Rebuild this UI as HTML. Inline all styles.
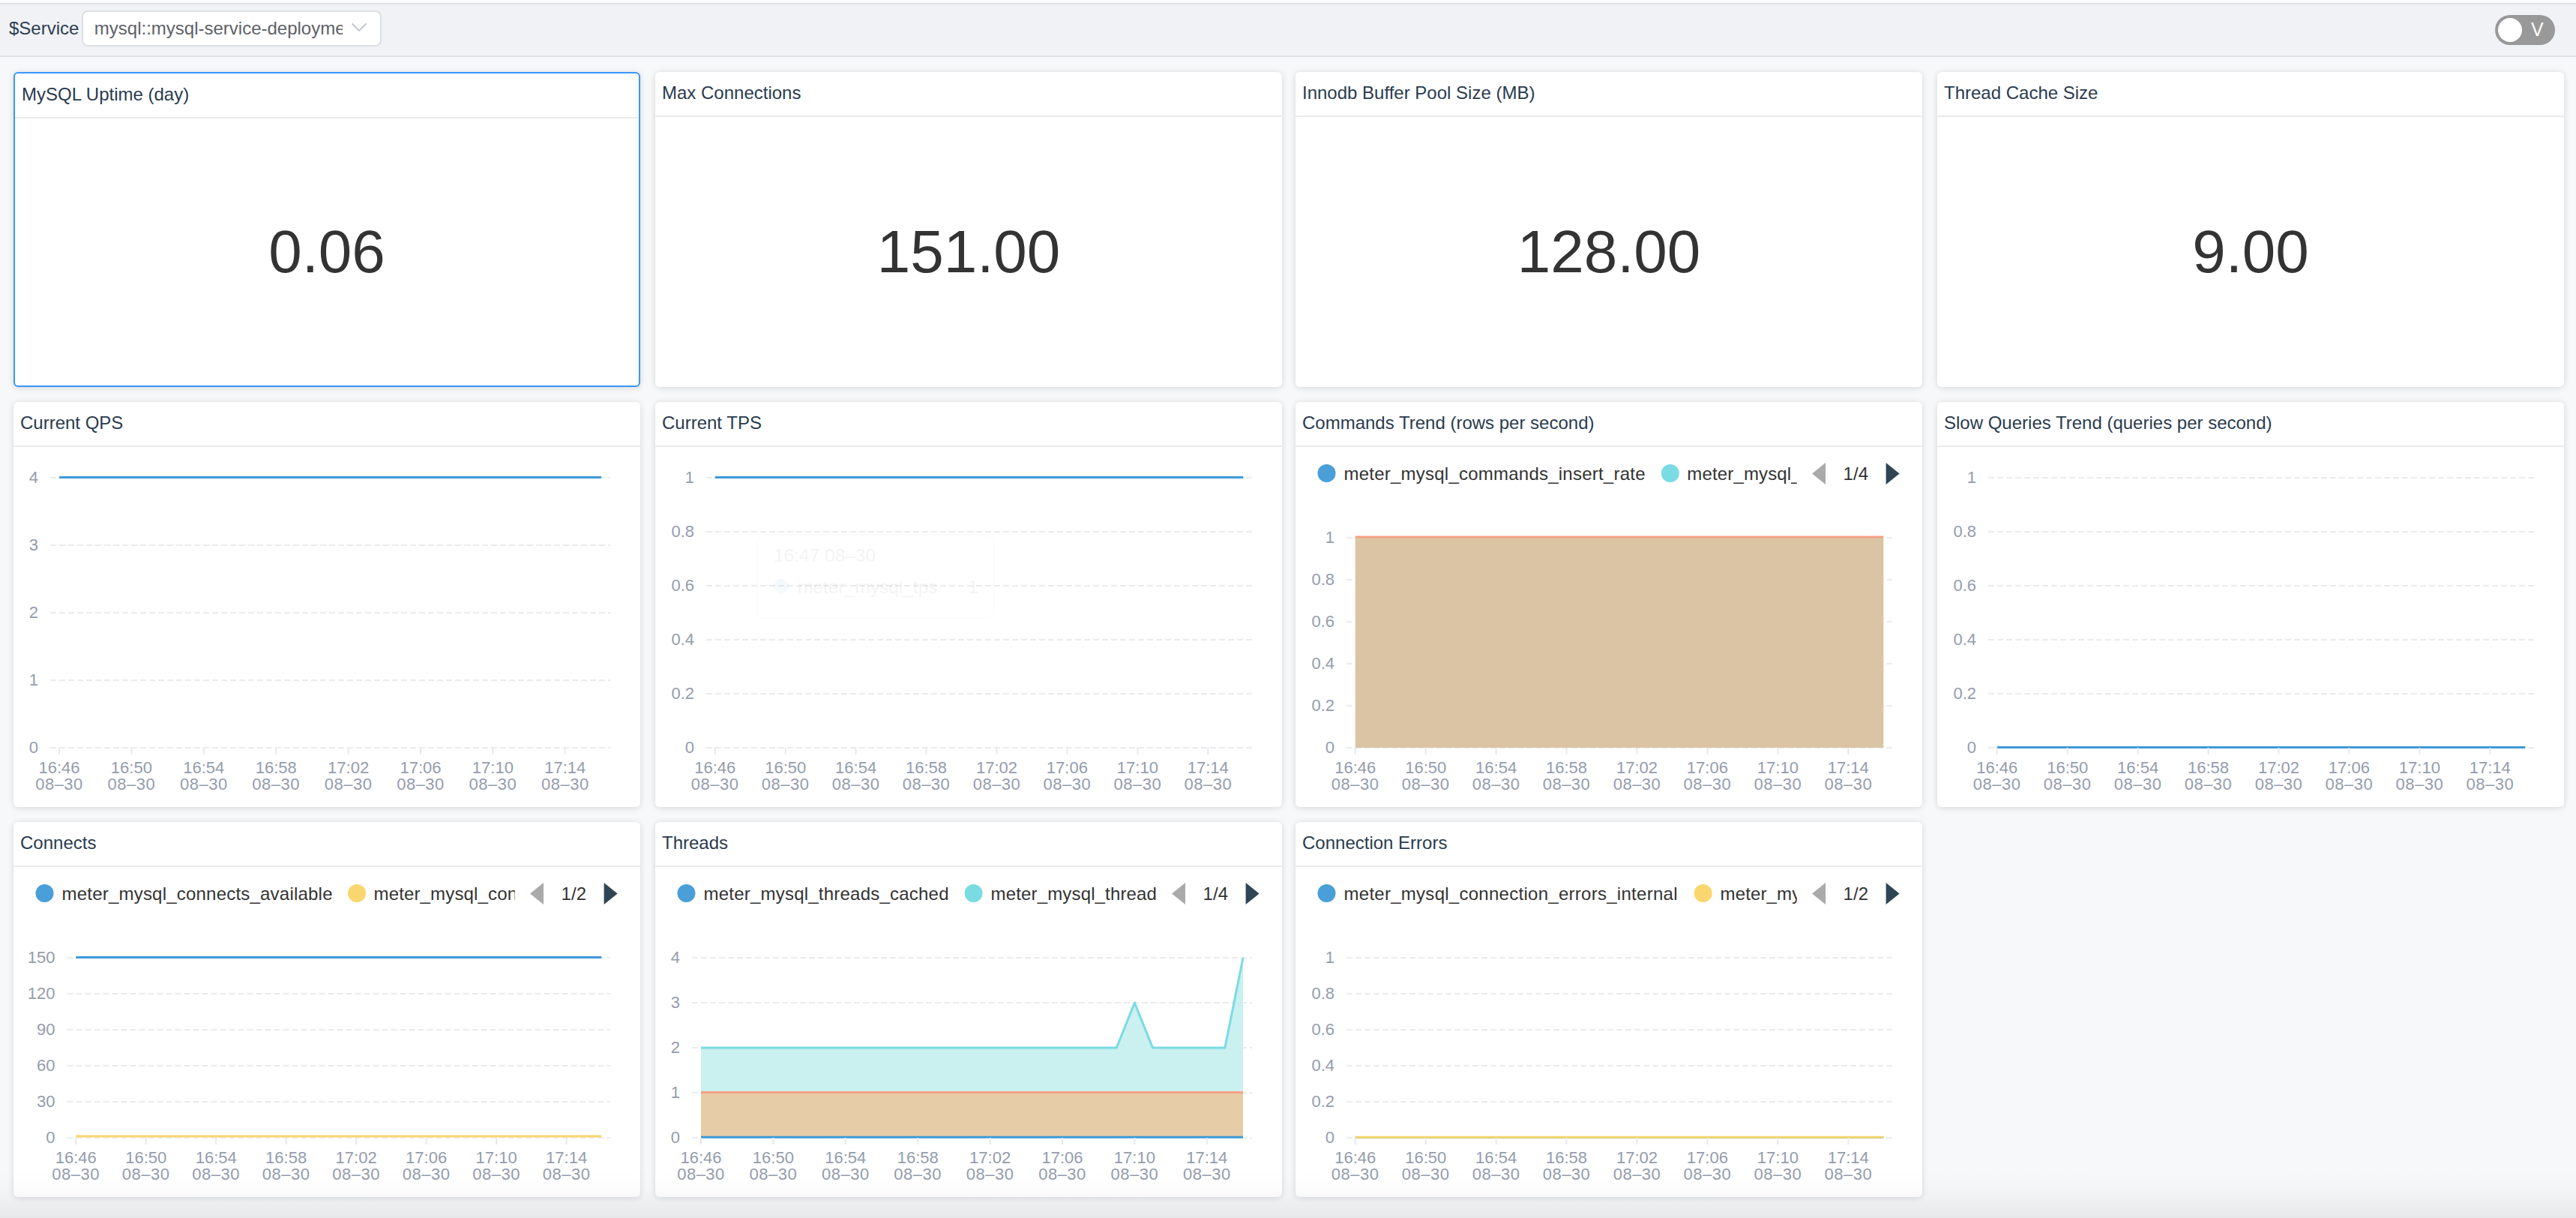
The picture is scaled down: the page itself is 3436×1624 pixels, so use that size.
<!DOCTYPE html>
<html><head><meta charset="utf-8"><title>MySQL Dashboard</title>
<style>
html,body{margin:0;padding:0;}
body{width:3436px;height:1624px;overflow:hidden;position:relative;background:#f7f8fa;font-family:'Liberation Sans', Arial, Helvetica, sans-serif;}
.topstrip{position:absolute;left:0;top:0;width:3436px;height:4px;background:#fafbfd;}
.topline{position:absolute;left:0;top:4px;width:3436px;height:2px;background:#dde0e4;}
.bar{position:absolute;left:0;top:6px;width:3436px;height:68px;background:#f1f2f6;}
.barline{position:absolute;left:0;top:74px;width:3436px;height:2px;background:#dde0e4;}
.lbl{position:absolute;left:12px;top:18px;font-size:24px;line-height:40px;color:#2c3e50;}
.sel{position:absolute;left:109px;top:14px;width:400px;height:48px;box-sizing:border-box;border:2px solid #dcdfe6;border-radius:8px;background:#fff;overflow:hidden;}
.sel .v{position:absolute;left:14.8px;top:0;width:331px;height:44px;overflow:hidden;white-space:nowrap;font-size:24px;line-height:44px;color:#5e6167;}
.tog{position:absolute;left:3328px;top:20px;width:80px;height:40px;border-radius:20px;background:#999999;}
.tog .k{position:absolute;left:4px;top:4px;width:32px;height:32px;border-radius:16px;background:#fff;}
.tog .t{position:absolute;left:48px;top:-1px;font-size:25px;line-height:40px;color:#fff;}
.p{position:absolute;box-sizing:border-box;background:#fff;border-radius:6px;box-shadow:0 1px 8px rgba(0,0,0,0.14);overflow:hidden;}
.p.act{border:2px solid #3b97fa;}
.p .h{position:absolute;left:0;top:0;right:0;height:58px;border-bottom:2px solid #ebebeb;}
.p .h span{position:absolute;left:9px;top:14px;font-size:24px;line-height:28px;color:#293b4f;white-space:nowrap;}
.p .num{position:absolute;left:0;right:0;top:60px;bottom:0;display:flex;align-items:center;justify-content:center;font-size:80px;color:#333;}
.bot{position:absolute;left:0;top:1560px;width:3436px;height:64px;background:linear-gradient(to bottom,rgba(0,0,0,0) 0%,rgba(0,0,0,0.012) 40%,rgba(0,0,0,0.065) 100%);}
svg text{font-family:'Liberation Sans', Arial, Helvetica, sans-serif;}
</style></head><body>
<div class="topstrip"></div><div class="topline"></div><div class="bar"></div><div class="barline"></div>
<div class="lbl">$Service</div>
<div class="sel"><div class="v">mysql::mysql-service-deployment</div>
<svg style="position:absolute;left:356px;top:13px" width="24" height="16" viewBox="0 0 24 16"><path d="M2.5 2.5 L12 12 L21.5 2.5" fill="none" stroke="#c0c4cc" stroke-width="1.8"/></svg></div>
<div class="tog"><div class="k"></div><div class="t">V</div></div>

<div class="p act" style="left:18px;top:96px;width:836px;height:420px"><div class="h"><span>MySQL Uptime (day)</span></div><div class="num">0.06</div></div>
<div class="p" style="left:874px;top:96px;width:836px;height:420px"><div class="h"><span>Max Connections</span></div><div class="num">151.00</div></div>
<div class="p" style="left:1728px;top:96px;width:836px;height:420px"><div class="h"><span>Innodb Buffer Pool Size (MB)</span></div><div class="num">128.00</div></div>
<div class="p" style="left:2584px;top:96px;width:836px;height:420px"><div class="h"><span>Thread Cache Size</span></div><div class="num">9.00</div></div>
<div class="p" style="left:18px;top:536px;width:836px;height:540px"><div class="h"><span>Current QPS</span></div></div>
<div class="p" style="left:874px;top:536px;width:836px;height:540px"><div class="h"><span>Current TPS</span></div></div>
<div class="p" style="left:1728px;top:536px;width:836px;height:540px"><div class="h"><span>Commands Trend (rows per second)</span></div></div>
<div class="p" style="left:2584px;top:536px;width:836px;height:540px"><div class="h"><span>Slow Queries Trend (queries per second)</span></div></div>
<div class="p" style="left:18px;top:1096px;width:836px;height:500px"><div class="h"><span>Connects</span></div></div>
<div class="p" style="left:874px;top:1096px;width:836px;height:500px"><div class="h"><span>Threads</span></div></div>
<div class="p" style="left:1728px;top:1096px;width:836px;height:500px"><div class="h"><span>Connection Errors</span></div></div>
<svg style="position:absolute;left:0;top:0" width="3436" height="1624" viewBox="0 0 3436 1624"><g><line x1="67" y1="997.0" x2="814" y2="997.0" stroke="#eaebee" stroke-width="2" stroke-dasharray="8 4"/><text x="51" y="1004.2" text-anchor="end" font-size="22" fill="#949cad">0</text><line x1="67" y1="907.0" x2="814" y2="907.0" stroke="#eaebee" stroke-width="2" stroke-dasharray="8 4"/><text x="51" y="914.2" text-anchor="end" font-size="22" fill="#949cad">1</text><line x1="67" y1="817.0" x2="814" y2="817.0" stroke="#eaebee" stroke-width="2" stroke-dasharray="8 4"/><text x="51" y="824.2" text-anchor="end" font-size="22" fill="#949cad">2</text><line x1="67" y1="727.0" x2="814" y2="727.0" stroke="#eaebee" stroke-width="2" stroke-dasharray="8 4"/><text x="51" y="734.2" text-anchor="end" font-size="22" fill="#949cad">3</text><line x1="67" y1="637.0" x2="814" y2="637.0" stroke="#eaebee" stroke-width="2" stroke-dasharray="8 4"/><text x="51" y="644.2" text-anchor="end" font-size="22" fill="#949cad">4</text><polyline points="79.0,636.5 103.1,636.5 127.2,636.5 151.3,636.5 175.4,636.5 199.5,636.5 223.6,636.5 247.7,636.5 271.8,636.5 295.9,636.5 320.0,636.5 344.1,636.5 368.2,636.5 392.3,636.5 416.4,636.5 440.5,636.5 464.6,636.5 488.7,636.5 512.8,636.5 536.9,636.5 561.0,636.5 585.1,636.5 609.2,636.5 633.3,636.5 657.4,636.5 681.5,636.5 705.6,636.5 729.7,636.5 753.8,636.5 777.9,636.5 802.0,636.5" fill="none" stroke="#3f9ad6" stroke-width="3" stroke-linejoin="round" stroke-linecap="butt"/><line x1="79.0" y1="997" x2="79.0" y2="1006" stroke="#e6e8ec" stroke-width="2"/><text x="79.0" y="1030.8" text-anchor="middle" font-size="22" fill="#949cad">16:46</text><text x="79.0" y="1052.9" text-anchor="middle" font-size="22" fill="#949cad" letter-spacing="0.5">08–30</text><line x1="175.4" y1="997" x2="175.4" y2="1006" stroke="#e6e8ec" stroke-width="2"/><text x="175.4" y="1030.8" text-anchor="middle" font-size="22" fill="#949cad">16:50</text><text x="175.4" y="1052.9" text-anchor="middle" font-size="22" fill="#949cad" letter-spacing="0.5">08–30</text><line x1="271.8" y1="997" x2="271.8" y2="1006" stroke="#e6e8ec" stroke-width="2"/><text x="271.8" y="1030.8" text-anchor="middle" font-size="22" fill="#949cad">16:54</text><text x="271.8" y="1052.9" text-anchor="middle" font-size="22" fill="#949cad" letter-spacing="0.5">08–30</text><line x1="368.2" y1="997" x2="368.2" y2="1006" stroke="#e6e8ec" stroke-width="2"/><text x="368.2" y="1030.8" text-anchor="middle" font-size="22" fill="#949cad">16:58</text><text x="368.2" y="1052.9" text-anchor="middle" font-size="22" fill="#949cad" letter-spacing="0.5">08–30</text><line x1="464.6" y1="997" x2="464.6" y2="1006" stroke="#e6e8ec" stroke-width="2"/><text x="464.6" y="1030.8" text-anchor="middle" font-size="22" fill="#949cad">17:02</text><text x="464.6" y="1052.9" text-anchor="middle" font-size="22" fill="#949cad" letter-spacing="0.5">08–30</text><line x1="561.0" y1="997" x2="561.0" y2="1006" stroke="#e6e8ec" stroke-width="2"/><text x="561.0" y="1030.8" text-anchor="middle" font-size="22" fill="#949cad">17:06</text><text x="561.0" y="1052.9" text-anchor="middle" font-size="22" fill="#949cad" letter-spacing="0.5">08–30</text><line x1="657.4" y1="997" x2="657.4" y2="1006" stroke="#e6e8ec" stroke-width="2"/><text x="657.4" y="1030.8" text-anchor="middle" font-size="22" fill="#949cad">17:10</text><text x="657.4" y="1052.9" text-anchor="middle" font-size="22" fill="#949cad" letter-spacing="0.5">08–30</text><line x1="753.8" y1="997" x2="753.8" y2="1006" stroke="#e6e8ec" stroke-width="2"/><text x="753.8" y="1030.8" text-anchor="middle" font-size="22" fill="#949cad">17:14</text><text x="753.8" y="1052.9" text-anchor="middle" font-size="22" fill="#949cad" letter-spacing="0.5">08–30</text></g><g><line x1="942" y1="997.0" x2="1670" y2="997.0" stroke="#eaebee" stroke-width="2" stroke-dasharray="8 4"/><text x="926" y="1004.2" text-anchor="end" font-size="22" fill="#949cad">0</text><line x1="942" y1="925.0" x2="1670" y2="925.0" stroke="#eaebee" stroke-width="2" stroke-dasharray="8 4"/><text x="926" y="932.2" text-anchor="end" font-size="22" fill="#949cad">0.2</text><line x1="942" y1="853.0" x2="1670" y2="853.0" stroke="#eaebee" stroke-width="2" stroke-dasharray="8 4"/><text x="926" y="860.2" text-anchor="end" font-size="22" fill="#949cad">0.4</text><line x1="942" y1="781.0" x2="1670" y2="781.0" stroke="#eaebee" stroke-width="2" stroke-dasharray="8 4"/><text x="926" y="788.2" text-anchor="end" font-size="22" fill="#949cad">0.6</text><line x1="942" y1="709.0" x2="1670" y2="709.0" stroke="#eaebee" stroke-width="2" stroke-dasharray="8 4"/><text x="926" y="716.2" text-anchor="end" font-size="22" fill="#949cad">0.8</text><line x1="942" y1="637.0" x2="1670" y2="637.0" stroke="#eaebee" stroke-width="2" stroke-dasharray="8 4"/><text x="926" y="644.2" text-anchor="end" font-size="22" fill="#949cad">1</text><polyline points="953.7,636.5 977.2,636.5 1000.7,636.5 1024.2,636.5 1047.7,636.5 1071.2,636.5 1094.6,636.5 1118.1,636.5 1141.6,636.5 1165.1,636.5 1188.6,636.5 1212.1,636.5 1235.5,636.5 1259.0,636.5 1282.5,636.5 1306.0,636.5 1329.5,636.5 1353.0,636.5 1376.5,636.5 1399.9,636.5 1423.4,636.5 1446.9,636.5 1470.4,636.5 1493.9,636.5 1517.4,636.5 1540.8,636.5 1564.3,636.5 1587.8,636.5 1611.3,636.5 1634.8,636.5 1658.3,636.5" fill="none" stroke="#3f9ad6" stroke-width="3" stroke-linejoin="round" stroke-linecap="butt"/><line x1="953.7" y1="997" x2="953.7" y2="1006" stroke="#e6e8ec" stroke-width="2"/><text x="953.7" y="1030.8" text-anchor="middle" font-size="22" fill="#949cad">16:46</text><text x="953.7" y="1052.9" text-anchor="middle" font-size="22" fill="#949cad" letter-spacing="0.5">08–30</text><line x1="1047.7" y1="997" x2="1047.7" y2="1006" stroke="#e6e8ec" stroke-width="2"/><text x="1047.7" y="1030.8" text-anchor="middle" font-size="22" fill="#949cad">16:50</text><text x="1047.7" y="1052.9" text-anchor="middle" font-size="22" fill="#949cad" letter-spacing="0.5">08–30</text><line x1="1141.6" y1="997" x2="1141.6" y2="1006" stroke="#e6e8ec" stroke-width="2"/><text x="1141.6" y="1030.8" text-anchor="middle" font-size="22" fill="#949cad">16:54</text><text x="1141.6" y="1052.9" text-anchor="middle" font-size="22" fill="#949cad" letter-spacing="0.5">08–30</text><line x1="1235.5" y1="997" x2="1235.5" y2="1006" stroke="#e6e8ec" stroke-width="2"/><text x="1235.5" y="1030.8" text-anchor="middle" font-size="22" fill="#949cad">16:58</text><text x="1235.5" y="1052.9" text-anchor="middle" font-size="22" fill="#949cad" letter-spacing="0.5">08–30</text><line x1="1329.5" y1="997" x2="1329.5" y2="1006" stroke="#e6e8ec" stroke-width="2"/><text x="1329.5" y="1030.8" text-anchor="middle" font-size="22" fill="#949cad">17:02</text><text x="1329.5" y="1052.9" text-anchor="middle" font-size="22" fill="#949cad" letter-spacing="0.5">08–30</text><line x1="1423.4" y1="997" x2="1423.4" y2="1006" stroke="#e6e8ec" stroke-width="2"/><text x="1423.4" y="1030.8" text-anchor="middle" font-size="22" fill="#949cad">17:06</text><text x="1423.4" y="1052.9" text-anchor="middle" font-size="22" fill="#949cad" letter-spacing="0.5">08–30</text><line x1="1517.4" y1="997" x2="1517.4" y2="1006" stroke="#e6e8ec" stroke-width="2"/><text x="1517.4" y="1030.8" text-anchor="middle" font-size="22" fill="#949cad">17:10</text><text x="1517.4" y="1052.9" text-anchor="middle" font-size="22" fill="#949cad" letter-spacing="0.5">08–30</text><line x1="1611.3" y1="997" x2="1611.3" y2="1006" stroke="#e6e8ec" stroke-width="2"/><text x="1611.3" y="1030.8" text-anchor="middle" font-size="22" fill="#949cad">17:14</text><text x="1611.3" y="1052.9" text-anchor="middle" font-size="22" fill="#949cad" letter-spacing="0.5">08–30</text></g><g><line x1="1796" y1="997.0" x2="2524" y2="997.0" stroke="#eaebee" stroke-width="2" stroke-dasharray="8 4"/><text x="1780" y="1004.2" text-anchor="end" font-size="22" fill="#949cad">0</text><line x1="1796" y1="941.0" x2="2524" y2="941.0" stroke="#eaebee" stroke-width="2" stroke-dasharray="8 4"/><text x="1780" y="948.2" text-anchor="end" font-size="22" fill="#949cad">0.2</text><line x1="1796" y1="885.0" x2="2524" y2="885.0" stroke="#eaebee" stroke-width="2" stroke-dasharray="8 4"/><text x="1780" y="892.2" text-anchor="end" font-size="22" fill="#949cad">0.4</text><line x1="1796" y1="829.0" x2="2524" y2="829.0" stroke="#eaebee" stroke-width="2" stroke-dasharray="8 4"/><text x="1780" y="836.2" text-anchor="end" font-size="22" fill="#949cad">0.6</text><line x1="1796" y1="773.0" x2="2524" y2="773.0" stroke="#eaebee" stroke-width="2" stroke-dasharray="8 4"/><text x="1780" y="780.2" text-anchor="end" font-size="22" fill="#949cad">0.8</text><line x1="1796" y1="717.0" x2="2524" y2="717.0" stroke="#eaebee" stroke-width="2" stroke-dasharray="8 4"/><text x="1780" y="724.2" text-anchor="end" font-size="22" fill="#949cad">1</text><polygon points="1807.7,717.0 1831.2,717.0 1854.7,717.0 1878.2,717.0 1901.7,717.0 1925.2,717.0 1948.6,717.0 1972.1,717.0 1995.6,717.0 2019.1,717.0 2042.6,717.0 2066.1,717.0 2089.5,717.0 2113.0,717.0 2136.5,717.0 2160.0,717.0 2183.5,717.0 2207.0,717.0 2230.5,717.0 2253.9,717.0 2277.4,717.0 2300.9,717.0 2324.4,717.0 2347.9,717.0 2371.4,717.0 2394.8,717.0 2418.3,717.0 2441.8,717.0 2465.3,717.0 2488.8,717.0 2512.3,717.0 2512.3,997.0 2488.8,997.0 2465.3,997.0 2441.8,997.0 2418.3,997.0 2394.8,997.0 2371.4,997.0 2347.9,997.0 2324.4,997.0 2300.9,997.0 2277.4,997.0 2253.9,997.0 2230.5,997.0 2207.0,997.0 2183.5,997.0 2160.0,997.0 2136.5,997.0 2113.0,997.0 2089.5,997.0 2066.1,997.0 2042.6,997.0 2019.1,997.0 1995.6,997.0 1972.1,997.0 1948.6,997.0 1925.2,997.0 1901.7,997.0 1878.2,997.0 1854.7,997.0 1831.2,997.0 1807.7,997.0" fill="#dbc4a4"/><polyline points="1807.7,716.0 1831.2,716.0 1854.7,716.0 1878.2,716.0 1901.7,716.0 1925.2,716.0 1948.6,716.0 1972.1,716.0 1995.6,716.0 2019.1,716.0 2042.6,716.0 2066.1,716.0 2089.5,716.0 2113.0,716.0 2136.5,716.0 2160.0,716.0 2183.5,716.0 2207.0,716.0 2230.5,716.0 2253.9,716.0 2277.4,716.0 2300.9,716.0 2324.4,716.0 2347.9,716.0 2371.4,716.0 2394.8,716.0 2418.3,716.0 2441.8,716.0 2465.3,716.0 2488.8,716.0 2512.3,716.0" fill="none" stroke="#f5a183" stroke-width="3" stroke-linejoin="round" stroke-linecap="butt"/><line x1="1807.7" y1="997" x2="1807.7" y2="1006" stroke="#e6e8ec" stroke-width="2"/><text x="1807.7" y="1030.8" text-anchor="middle" font-size="22" fill="#949cad">16:46</text><text x="1807.7" y="1052.9" text-anchor="middle" font-size="22" fill="#949cad" letter-spacing="0.5">08–30</text><line x1="1901.7" y1="997" x2="1901.7" y2="1006" stroke="#e6e8ec" stroke-width="2"/><text x="1901.7" y="1030.8" text-anchor="middle" font-size="22" fill="#949cad">16:50</text><text x="1901.7" y="1052.9" text-anchor="middle" font-size="22" fill="#949cad" letter-spacing="0.5">08–30</text><line x1="1995.6" y1="997" x2="1995.6" y2="1006" stroke="#e6e8ec" stroke-width="2"/><text x="1995.6" y="1030.8" text-anchor="middle" font-size="22" fill="#949cad">16:54</text><text x="1995.6" y="1052.9" text-anchor="middle" font-size="22" fill="#949cad" letter-spacing="0.5">08–30</text><line x1="2089.5" y1="997" x2="2089.5" y2="1006" stroke="#e6e8ec" stroke-width="2"/><text x="2089.5" y="1030.8" text-anchor="middle" font-size="22" fill="#949cad">16:58</text><text x="2089.5" y="1052.9" text-anchor="middle" font-size="22" fill="#949cad" letter-spacing="0.5">08–30</text><line x1="2183.5" y1="997" x2="2183.5" y2="1006" stroke="#e6e8ec" stroke-width="2"/><text x="2183.5" y="1030.8" text-anchor="middle" font-size="22" fill="#949cad">17:02</text><text x="2183.5" y="1052.9" text-anchor="middle" font-size="22" fill="#949cad" letter-spacing="0.5">08–30</text><line x1="2277.4" y1="997" x2="2277.4" y2="1006" stroke="#e6e8ec" stroke-width="2"/><text x="2277.4" y="1030.8" text-anchor="middle" font-size="22" fill="#949cad">17:06</text><text x="2277.4" y="1052.9" text-anchor="middle" font-size="22" fill="#949cad" letter-spacing="0.5">08–30</text><line x1="2371.4" y1="997" x2="2371.4" y2="1006" stroke="#e6e8ec" stroke-width="2"/><text x="2371.4" y="1030.8" text-anchor="middle" font-size="22" fill="#949cad">17:10</text><text x="2371.4" y="1052.9" text-anchor="middle" font-size="22" fill="#949cad" letter-spacing="0.5">08–30</text><line x1="2465.3" y1="997" x2="2465.3" y2="1006" stroke="#e6e8ec" stroke-width="2"/><text x="2465.3" y="1030.8" text-anchor="middle" font-size="22" fill="#949cad">17:14</text><text x="2465.3" y="1052.9" text-anchor="middle" font-size="22" fill="#949cad" letter-spacing="0.5">08–30</text><clipPath id="clip1728_1"><rect x="1728" y="601.5" width="668.8" height="60"/></clipPath><g clip-path="url(#clip1728_1)"><circle cx="1769.5" cy="631.0" r="12" fill="#4a9fd8"/><text x="1792.5" y="640.3" font-size="24" fill="#333" textLength="402" lengthAdjust="spacing">meter_mysql_commands_insert_rate</text><circle cx="2227.8" cy="631.0" r="12" fill="#7adbe2"/><text x="2250.3" y="640.3" font-size="24" fill="#333" letter-spacing="0.15">meter_mysql_commands_select_rate</text></g><polygon points="2435,617.0 2435,646.0 2417,631.5" fill="#aaaaaa"/><text x="2475.3" y="640.3" text-anchor="middle" font-size="24" fill="#333">1/4</text><polygon points="2515.6,617.0 2515.6,646.0 2533.6,631.5" fill="#2f4554"/></g><g><line x1="2652" y1="997.0" x2="3380" y2="997.0" stroke="#eaebee" stroke-width="2" stroke-dasharray="8 4"/><text x="2636" y="1004.2" text-anchor="end" font-size="22" fill="#949cad">0</text><line x1="2652" y1="925.0" x2="3380" y2="925.0" stroke="#eaebee" stroke-width="2" stroke-dasharray="8 4"/><text x="2636" y="932.2" text-anchor="end" font-size="22" fill="#949cad">0.2</text><line x1="2652" y1="853.0" x2="3380" y2="853.0" stroke="#eaebee" stroke-width="2" stroke-dasharray="8 4"/><text x="2636" y="860.2" text-anchor="end" font-size="22" fill="#949cad">0.4</text><line x1="2652" y1="781.0" x2="3380" y2="781.0" stroke="#eaebee" stroke-width="2" stroke-dasharray="8 4"/><text x="2636" y="788.2" text-anchor="end" font-size="22" fill="#949cad">0.6</text><line x1="2652" y1="709.0" x2="3380" y2="709.0" stroke="#eaebee" stroke-width="2" stroke-dasharray="8 4"/><text x="2636" y="716.2" text-anchor="end" font-size="22" fill="#949cad">0.8</text><line x1="2652" y1="637.0" x2="3380" y2="637.0" stroke="#eaebee" stroke-width="2" stroke-dasharray="8 4"/><text x="2636" y="644.2" text-anchor="end" font-size="22" fill="#949cad">1</text><polyline points="2663.7,996.5 2687.2,996.5 2710.7,996.5 2734.2,996.5 2757.7,996.5 2781.2,996.5 2804.6,996.5 2828.1,996.5 2851.6,996.5 2875.1,996.5 2898.6,996.5 2922.1,996.5 2945.5,996.5 2969.0,996.5 2992.5,996.5 3016.0,996.5 3039.5,996.5 3063.0,996.5 3086.5,996.5 3109.9,996.5 3133.4,996.5 3156.9,996.5 3180.4,996.5 3203.9,996.5 3227.4,996.5 3250.8,996.5 3274.3,996.5 3297.8,996.5 3321.3,996.5 3344.8,996.5 3368.3,996.5" fill="none" stroke="#3f9ad6" stroke-width="3" stroke-linejoin="round" stroke-linecap="butt"/><line x1="2663.7" y1="997" x2="2663.7" y2="1006" stroke="#e6e8ec" stroke-width="2"/><text x="2663.7" y="1030.8" text-anchor="middle" font-size="22" fill="#949cad">16:46</text><text x="2663.7" y="1052.9" text-anchor="middle" font-size="22" fill="#949cad" letter-spacing="0.5">08–30</text><line x1="2757.7" y1="997" x2="2757.7" y2="1006" stroke="#e6e8ec" stroke-width="2"/><text x="2757.7" y="1030.8" text-anchor="middle" font-size="22" fill="#949cad">16:50</text><text x="2757.7" y="1052.9" text-anchor="middle" font-size="22" fill="#949cad" letter-spacing="0.5">08–30</text><line x1="2851.6" y1="997" x2="2851.6" y2="1006" stroke="#e6e8ec" stroke-width="2"/><text x="2851.6" y="1030.8" text-anchor="middle" font-size="22" fill="#949cad">16:54</text><text x="2851.6" y="1052.9" text-anchor="middle" font-size="22" fill="#949cad" letter-spacing="0.5">08–30</text><line x1="2945.5" y1="997" x2="2945.5" y2="1006" stroke="#e6e8ec" stroke-width="2"/><text x="2945.5" y="1030.8" text-anchor="middle" font-size="22" fill="#949cad">16:58</text><text x="2945.5" y="1052.9" text-anchor="middle" font-size="22" fill="#949cad" letter-spacing="0.5">08–30</text><line x1="3039.5" y1="997" x2="3039.5" y2="1006" stroke="#e6e8ec" stroke-width="2"/><text x="3039.5" y="1030.8" text-anchor="middle" font-size="22" fill="#949cad">17:02</text><text x="3039.5" y="1052.9" text-anchor="middle" font-size="22" fill="#949cad" letter-spacing="0.5">08–30</text><line x1="3133.4" y1="997" x2="3133.4" y2="1006" stroke="#e6e8ec" stroke-width="2"/><text x="3133.4" y="1030.8" text-anchor="middle" font-size="22" fill="#949cad">17:06</text><text x="3133.4" y="1052.9" text-anchor="middle" font-size="22" fill="#949cad" letter-spacing="0.5">08–30</text><line x1="3227.4" y1="997" x2="3227.4" y2="1006" stroke="#e6e8ec" stroke-width="2"/><text x="3227.4" y="1030.8" text-anchor="middle" font-size="22" fill="#949cad">17:10</text><text x="3227.4" y="1052.9" text-anchor="middle" font-size="22" fill="#949cad" letter-spacing="0.5">08–30</text><line x1="3321.3" y1="997" x2="3321.3" y2="1006" stroke="#e6e8ec" stroke-width="2"/><text x="3321.3" y="1030.8" text-anchor="middle" font-size="22" fill="#949cad">17:14</text><text x="3321.3" y="1052.9" text-anchor="middle" font-size="22" fill="#949cad" letter-spacing="0.5">08–30</text></g><g><line x1="89.5" y1="1517.0" x2="814" y2="1517.0" stroke="#eaebee" stroke-width="2" stroke-dasharray="8 4"/><text x="73.5" y="1524.2" text-anchor="end" font-size="22" fill="#949cad">0</text><line x1="89.5" y1="1469.0" x2="814" y2="1469.0" stroke="#eaebee" stroke-width="2" stroke-dasharray="8 4"/><text x="73.5" y="1476.2" text-anchor="end" font-size="22" fill="#949cad">30</text><line x1="89.5" y1="1421.0" x2="814" y2="1421.0" stroke="#eaebee" stroke-width="2" stroke-dasharray="8 4"/><text x="73.5" y="1428.2" text-anchor="end" font-size="22" fill="#949cad">60</text><line x1="89.5" y1="1373.0" x2="814" y2="1373.0" stroke="#eaebee" stroke-width="2" stroke-dasharray="8 4"/><text x="73.5" y="1380.2" text-anchor="end" font-size="22" fill="#949cad">90</text><line x1="89.5" y1="1325.0" x2="814" y2="1325.0" stroke="#eaebee" stroke-width="2" stroke-dasharray="8 4"/><text x="73.5" y="1332.2" text-anchor="end" font-size="22" fill="#949cad">120</text><line x1="89.5" y1="1277.0" x2="814" y2="1277.0" stroke="#eaebee" stroke-width="2" stroke-dasharray="8 4"/><text x="73.5" y="1284.2" text-anchor="end" font-size="22" fill="#949cad">150</text><polyline points="101.2,1276.5 124.6,1276.5 147.9,1276.5 171.3,1276.5 194.7,1276.5 218.0,1276.5 241.4,1276.5 264.8,1276.5 288.2,1276.5 311.5,1276.5 334.9,1276.5 358.3,1276.5 381.6,1276.5 405.0,1276.5 428.4,1276.5 451.8,1276.5 475.1,1276.5 498.5,1276.5 521.9,1276.5 545.2,1276.5 568.6,1276.5 592.0,1276.5 615.3,1276.5 638.7,1276.5 662.1,1276.5 685.5,1276.5 708.8,1276.5 732.2,1276.5 755.6,1276.5 778.9,1276.5 802.3,1276.5" fill="none" stroke="#3f9ad6" stroke-width="3" stroke-linejoin="round" stroke-linecap="butt"/><polyline points="101.2,1515.1 124.6,1515.1 147.9,1515.1 171.3,1515.1 194.7,1515.1 218.0,1515.1 241.4,1515.1 264.8,1515.1 288.2,1515.1 311.5,1515.1 334.9,1515.1 358.3,1515.1 381.6,1515.1 405.0,1515.1 428.4,1515.1 451.8,1515.1 475.1,1515.1 498.5,1515.1 521.9,1515.1 545.2,1515.1 568.6,1515.1 592.0,1515.1 615.3,1515.1 638.7,1515.1 662.1,1515.1 685.5,1515.1 708.8,1515.1 732.2,1515.1 755.6,1515.1 778.9,1515.1 802.3,1515.1" fill="none" stroke="#f9d66e" stroke-width="3" stroke-linejoin="round" stroke-linecap="butt"/><line x1="101.2" y1="1517" x2="101.2" y2="1526" stroke="#e6e8ec" stroke-width="2"/><text x="101.2" y="1550.8" text-anchor="middle" font-size="22" fill="#949cad">16:46</text><text x="101.2" y="1572.9" text-anchor="middle" font-size="22" fill="#949cad" letter-spacing="0.5">08–30</text><line x1="194.7" y1="1517" x2="194.7" y2="1526" stroke="#e6e8ec" stroke-width="2"/><text x="194.7" y="1550.8" text-anchor="middle" font-size="22" fill="#949cad">16:50</text><text x="194.7" y="1572.9" text-anchor="middle" font-size="22" fill="#949cad" letter-spacing="0.5">08–30</text><line x1="288.2" y1="1517" x2="288.2" y2="1526" stroke="#e6e8ec" stroke-width="2"/><text x="288.2" y="1550.8" text-anchor="middle" font-size="22" fill="#949cad">16:54</text><text x="288.2" y="1572.9" text-anchor="middle" font-size="22" fill="#949cad" letter-spacing="0.5">08–30</text><line x1="381.6" y1="1517" x2="381.6" y2="1526" stroke="#e6e8ec" stroke-width="2"/><text x="381.6" y="1550.8" text-anchor="middle" font-size="22" fill="#949cad">16:58</text><text x="381.6" y="1572.9" text-anchor="middle" font-size="22" fill="#949cad" letter-spacing="0.5">08–30</text><line x1="475.1" y1="1517" x2="475.1" y2="1526" stroke="#e6e8ec" stroke-width="2"/><text x="475.1" y="1550.8" text-anchor="middle" font-size="22" fill="#949cad">17:02</text><text x="475.1" y="1572.9" text-anchor="middle" font-size="22" fill="#949cad" letter-spacing="0.5">08–30</text><line x1="568.6" y1="1517" x2="568.6" y2="1526" stroke="#e6e8ec" stroke-width="2"/><text x="568.6" y="1550.8" text-anchor="middle" font-size="22" fill="#949cad">17:06</text><text x="568.6" y="1572.9" text-anchor="middle" font-size="22" fill="#949cad" letter-spacing="0.5">08–30</text><line x1="662.1" y1="1517" x2="662.1" y2="1526" stroke="#e6e8ec" stroke-width="2"/><text x="662.1" y="1550.8" text-anchor="middle" font-size="22" fill="#949cad">17:10</text><text x="662.1" y="1572.9" text-anchor="middle" font-size="22" fill="#949cad" letter-spacing="0.5">08–30</text><line x1="755.6" y1="1517" x2="755.6" y2="1526" stroke="#e6e8ec" stroke-width="2"/><text x="755.6" y="1550.8" text-anchor="middle" font-size="22" fill="#949cad">17:14</text><text x="755.6" y="1572.9" text-anchor="middle" font-size="22" fill="#949cad" letter-spacing="0.5">08–30</text><clipPath id="clip18_2"><rect x="18" y="1161.5" width="668.8" height="60"/></clipPath><g clip-path="url(#clip18_2)"><circle cx="59.5" cy="1191.0" r="12" fill="#4a9fd8"/><text x="82.5" y="1200.3" font-size="24" fill="#333" textLength="361" lengthAdjust="spacing">meter_mysql_connects_available</text><circle cx="476" cy="1191.0" r="12" fill="#f9d66e"/><text x="498.5" y="1200.3" font-size="24" fill="#333" letter-spacing="0.15">meter_mysql_connects_aborted</text></g><polygon points="725,1177.0 725,1206.0 707,1191.5" fill="#aaaaaa"/><text x="765.3" y="1200.3" text-anchor="middle" font-size="24" fill="#333">1/2</text><polygon points="805.6,1177.0 805.6,1206.0 823.6,1191.5" fill="#2f4554"/></g><g><line x1="923" y1="1517.0" x2="1670" y2="1517.0" stroke="#eaebee" stroke-width="2" stroke-dasharray="8 4"/><text x="907" y="1524.2" text-anchor="end" font-size="22" fill="#949cad">0</text><line x1="923" y1="1457.0" x2="1670" y2="1457.0" stroke="#eaebee" stroke-width="2" stroke-dasharray="8 4"/><text x="907" y="1464.2" text-anchor="end" font-size="22" fill="#949cad">1</text><line x1="923" y1="1397.0" x2="1670" y2="1397.0" stroke="#eaebee" stroke-width="2" stroke-dasharray="8 4"/><text x="907" y="1404.2" text-anchor="end" font-size="22" fill="#949cad">2</text><line x1="923" y1="1337.0" x2="1670" y2="1337.0" stroke="#eaebee" stroke-width="2" stroke-dasharray="8 4"/><text x="907" y="1344.2" text-anchor="end" font-size="22" fill="#949cad">3</text><line x1="923" y1="1277.0" x2="1670" y2="1277.0" stroke="#eaebee" stroke-width="2" stroke-dasharray="8 4"/><text x="907" y="1284.2" text-anchor="end" font-size="22" fill="#949cad">4</text><polygon points="935.0,1397.0 959.1,1397.0 983.2,1397.0 1007.3,1397.0 1031.4,1397.0 1055.5,1397.0 1079.6,1397.0 1103.7,1397.0 1127.8,1397.0 1151.9,1397.0 1176.0,1397.0 1200.1,1397.0 1224.2,1397.0 1248.3,1397.0 1272.4,1397.0 1296.5,1397.0 1320.6,1397.0 1344.7,1397.0 1368.8,1397.0 1392.9,1397.0 1417.0,1397.0 1441.1,1397.0 1465.2,1397.0 1489.3,1397.0 1513.4,1337.0 1537.5,1397.0 1561.6,1397.0 1585.7,1397.0 1609.8,1397.0 1633.9,1397.0 1658.0,1277.0 1658.0,1457.0 1633.9,1457.0 1609.8,1457.0 1585.7,1457.0 1561.6,1457.0 1537.5,1457.0 1513.4,1457.0 1489.3,1457.0 1465.2,1457.0 1441.1,1457.0 1417.0,1457.0 1392.9,1457.0 1368.8,1457.0 1344.7,1457.0 1320.6,1457.0 1296.5,1457.0 1272.4,1457.0 1248.3,1457.0 1224.2,1457.0 1200.1,1457.0 1176.0,1457.0 1151.9,1457.0 1127.8,1457.0 1103.7,1457.0 1079.6,1457.0 1055.5,1457.0 1031.4,1457.0 1007.3,1457.0 983.2,1457.0 959.1,1457.0 935.0,1457.0" fill="#caf0f0"/><polygon points="935.0,1457.0 959.1,1457.0 983.2,1457.0 1007.3,1457.0 1031.4,1457.0 1055.5,1457.0 1079.6,1457.0 1103.7,1457.0 1127.8,1457.0 1151.9,1457.0 1176.0,1457.0 1200.1,1457.0 1224.2,1457.0 1248.3,1457.0 1272.4,1457.0 1296.5,1457.0 1320.6,1457.0 1344.7,1457.0 1368.8,1457.0 1392.9,1457.0 1417.0,1457.0 1441.1,1457.0 1465.2,1457.0 1489.3,1457.0 1513.4,1457.0 1537.5,1457.0 1561.6,1457.0 1585.7,1457.0 1609.8,1457.0 1633.9,1457.0 1658.0,1457.0 1658.0,1517.0 1633.9,1517.0 1609.8,1517.0 1585.7,1517.0 1561.6,1517.0 1537.5,1517.0 1513.4,1517.0 1489.3,1517.0 1465.2,1517.0 1441.1,1517.0 1417.0,1517.0 1392.9,1517.0 1368.8,1517.0 1344.7,1517.0 1320.6,1517.0 1296.5,1517.0 1272.4,1517.0 1248.3,1517.0 1224.2,1517.0 1200.1,1517.0 1176.0,1517.0 1151.9,1517.0 1127.8,1517.0 1103.7,1517.0 1079.6,1517.0 1055.5,1517.0 1031.4,1517.0 1007.3,1517.0 983.2,1517.0 959.1,1517.0 935.0,1517.0" fill="#e7cca8"/><polyline points="935.0,1397.0 959.1,1397.0 983.2,1397.0 1007.3,1397.0 1031.4,1397.0 1055.5,1397.0 1079.6,1397.0 1103.7,1397.0 1127.8,1397.0 1151.9,1397.0 1176.0,1397.0 1200.1,1397.0 1224.2,1397.0 1248.3,1397.0 1272.4,1397.0 1296.5,1397.0 1320.6,1397.0 1344.7,1397.0 1368.8,1397.0 1392.9,1397.0 1417.0,1397.0 1441.1,1397.0 1465.2,1397.0 1489.3,1397.0 1513.4,1337.0 1537.5,1397.0 1561.6,1397.0 1585.7,1397.0 1609.8,1397.0 1633.9,1397.0 1658.0,1277.0" fill="none" stroke="#7adbe2" stroke-width="3" stroke-linejoin="round" stroke-linecap="butt"/><polyline points="935.0,1456.5 959.1,1456.5 983.2,1456.5 1007.3,1456.5 1031.4,1456.5 1055.5,1456.5 1079.6,1456.5 1103.7,1456.5 1127.8,1456.5 1151.9,1456.5 1176.0,1456.5 1200.1,1456.5 1224.2,1456.5 1248.3,1456.5 1272.4,1456.5 1296.5,1456.5 1320.6,1456.5 1344.7,1456.5 1368.8,1456.5 1392.9,1456.5 1417.0,1456.5 1441.1,1456.5 1465.2,1456.5 1489.3,1456.5 1513.4,1456.5 1537.5,1456.5 1561.6,1456.5 1585.7,1456.5 1609.8,1456.5 1633.9,1456.5 1658.0,1456.5" fill="none" stroke="#f5a183" stroke-width="3" stroke-linejoin="round" stroke-linecap="butt"/><polyline points="935.0,1516.2 959.1,1516.2 983.2,1516.2 1007.3,1516.2 1031.4,1516.2 1055.5,1516.2 1079.6,1516.2 1103.7,1516.2 1127.8,1516.2 1151.9,1516.2 1176.0,1516.2 1200.1,1516.2 1224.2,1516.2 1248.3,1516.2 1272.4,1516.2 1296.5,1516.2 1320.6,1516.2 1344.7,1516.2 1368.8,1516.2 1392.9,1516.2 1417.0,1516.2 1441.1,1516.2 1465.2,1516.2 1489.3,1516.2 1513.4,1516.2 1537.5,1516.2 1561.6,1516.2 1585.7,1516.2 1609.8,1516.2 1633.9,1516.2 1658.0,1516.2" fill="none" stroke="#3f9ad6" stroke-width="3" stroke-linejoin="round" stroke-linecap="butt"/><line x1="935.0" y1="1517" x2="935.0" y2="1526" stroke="#e6e8ec" stroke-width="2"/><text x="935.0" y="1550.8" text-anchor="middle" font-size="22" fill="#949cad">16:46</text><text x="935.0" y="1572.9" text-anchor="middle" font-size="22" fill="#949cad" letter-spacing="0.5">08–30</text><line x1="1031.4" y1="1517" x2="1031.4" y2="1526" stroke="#e6e8ec" stroke-width="2"/><text x="1031.4" y="1550.8" text-anchor="middle" font-size="22" fill="#949cad">16:50</text><text x="1031.4" y="1572.9" text-anchor="middle" font-size="22" fill="#949cad" letter-spacing="0.5">08–30</text><line x1="1127.8" y1="1517" x2="1127.8" y2="1526" stroke="#e6e8ec" stroke-width="2"/><text x="1127.8" y="1550.8" text-anchor="middle" font-size="22" fill="#949cad">16:54</text><text x="1127.8" y="1572.9" text-anchor="middle" font-size="22" fill="#949cad" letter-spacing="0.5">08–30</text><line x1="1224.2" y1="1517" x2="1224.2" y2="1526" stroke="#e6e8ec" stroke-width="2"/><text x="1224.2" y="1550.8" text-anchor="middle" font-size="22" fill="#949cad">16:58</text><text x="1224.2" y="1572.9" text-anchor="middle" font-size="22" fill="#949cad" letter-spacing="0.5">08–30</text><line x1="1320.6" y1="1517" x2="1320.6" y2="1526" stroke="#e6e8ec" stroke-width="2"/><text x="1320.6" y="1550.8" text-anchor="middle" font-size="22" fill="#949cad">17:02</text><text x="1320.6" y="1572.9" text-anchor="middle" font-size="22" fill="#949cad" letter-spacing="0.5">08–30</text><line x1="1417.0" y1="1517" x2="1417.0" y2="1526" stroke="#e6e8ec" stroke-width="2"/><text x="1417.0" y="1550.8" text-anchor="middle" font-size="22" fill="#949cad">17:06</text><text x="1417.0" y="1572.9" text-anchor="middle" font-size="22" fill="#949cad" letter-spacing="0.5">08–30</text><line x1="1513.4" y1="1517" x2="1513.4" y2="1526" stroke="#e6e8ec" stroke-width="2"/><text x="1513.4" y="1550.8" text-anchor="middle" font-size="22" fill="#949cad">17:10</text><text x="1513.4" y="1572.9" text-anchor="middle" font-size="22" fill="#949cad" letter-spacing="0.5">08–30</text><line x1="1609.8" y1="1517" x2="1609.8" y2="1526" stroke="#e6e8ec" stroke-width="2"/><text x="1609.8" y="1550.8" text-anchor="middle" font-size="22" fill="#949cad">17:14</text><text x="1609.8" y="1572.9" text-anchor="middle" font-size="22" fill="#949cad" letter-spacing="0.5">08–30</text><clipPath id="clip874_2"><rect x="874" y="1161.5" width="668.8" height="60"/></clipPath><g clip-path="url(#clip874_2)"><circle cx="915.5" cy="1191.0" r="12" fill="#4a9fd8"/><text x="938.5" y="1200.3" font-size="24" fill="#333" textLength="327" lengthAdjust="spacing">meter_mysql_threads_cached</text><circle cx="1298.6" cy="1191.0" r="12" fill="#7adbe2"/><text x="1321.6" y="1200.3" font-size="24" fill="#333" letter-spacing="0.15">meter_mysql_threads_connected</text></g><polygon points="1581,1177.0 1581,1206.0 1563,1191.5" fill="#aaaaaa"/><text x="1621.3" y="1200.3" text-anchor="middle" font-size="24" fill="#333">1/4</text><polygon points="1661.6,1177.0 1661.6,1206.0 1679.6,1191.5" fill="#2f4554"/></g><g><line x1="1796" y1="1517.0" x2="2524" y2="1517.0" stroke="#eaebee" stroke-width="2" stroke-dasharray="8 4"/><text x="1780" y="1524.2" text-anchor="end" font-size="22" fill="#949cad">0</text><line x1="1796" y1="1469.0" x2="2524" y2="1469.0" stroke="#eaebee" stroke-width="2" stroke-dasharray="8 4"/><text x="1780" y="1476.2" text-anchor="end" font-size="22" fill="#949cad">0.2</text><line x1="1796" y1="1421.0" x2="2524" y2="1421.0" stroke="#eaebee" stroke-width="2" stroke-dasharray="8 4"/><text x="1780" y="1428.2" text-anchor="end" font-size="22" fill="#949cad">0.4</text><line x1="1796" y1="1373.0" x2="2524" y2="1373.0" stroke="#eaebee" stroke-width="2" stroke-dasharray="8 4"/><text x="1780" y="1380.2" text-anchor="end" font-size="22" fill="#949cad">0.6</text><line x1="1796" y1="1325.0" x2="2524" y2="1325.0" stroke="#eaebee" stroke-width="2" stroke-dasharray="8 4"/><text x="1780" y="1332.2" text-anchor="end" font-size="22" fill="#949cad">0.8</text><line x1="1796" y1="1277.0" x2="2524" y2="1277.0" stroke="#eaebee" stroke-width="2" stroke-dasharray="8 4"/><text x="1780" y="1284.2" text-anchor="end" font-size="22" fill="#949cad">1</text><polyline points="1807.7,1516.5 1831.2,1516.5 1854.7,1516.5 1878.2,1516.5 1901.7,1516.5 1925.2,1516.5 1948.6,1516.5 1972.1,1516.5 1995.6,1516.5 2019.1,1516.5 2042.6,1516.5 2066.1,1516.5 2089.5,1516.5 2113.0,1516.5 2136.5,1516.5 2160.0,1516.5 2183.5,1516.5 2207.0,1516.5 2230.5,1516.5 2253.9,1516.5 2277.4,1516.5 2300.9,1516.5 2324.4,1516.5 2347.9,1516.5 2371.4,1516.5 2394.8,1516.5 2418.3,1516.5 2441.8,1516.5 2465.3,1516.5 2488.8,1516.5 2512.3,1516.5" fill="none" stroke="#3f9ad6" stroke-width="3" stroke-linejoin="round" stroke-linecap="butt"/><polyline points="1807.7,1516.2 1831.2,1516.2 1854.7,1516.2 1878.2,1516.2 1901.7,1516.2 1925.2,1516.2 1948.6,1516.2 1972.1,1516.2 1995.6,1516.2 2019.1,1516.2 2042.6,1516.2 2066.1,1516.2 2089.5,1516.2 2113.0,1516.2 2136.5,1516.2 2160.0,1516.2 2183.5,1516.2 2207.0,1516.2 2230.5,1516.2 2253.9,1516.2 2277.4,1516.2 2300.9,1516.2 2324.4,1516.2 2347.9,1516.2 2371.4,1516.2 2394.8,1516.2 2418.3,1516.2 2441.8,1516.2 2465.3,1516.2 2488.8,1516.2 2512.3,1516.2" fill="none" stroke="#f9d66e" stroke-width="3" stroke-linejoin="round" stroke-linecap="butt"/><line x1="1807.7" y1="1517" x2="1807.7" y2="1526" stroke="#e6e8ec" stroke-width="2"/><text x="1807.7" y="1550.8" text-anchor="middle" font-size="22" fill="#949cad">16:46</text><text x="1807.7" y="1572.9" text-anchor="middle" font-size="22" fill="#949cad" letter-spacing="0.5">08–30</text><line x1="1901.7" y1="1517" x2="1901.7" y2="1526" stroke="#e6e8ec" stroke-width="2"/><text x="1901.7" y="1550.8" text-anchor="middle" font-size="22" fill="#949cad">16:50</text><text x="1901.7" y="1572.9" text-anchor="middle" font-size="22" fill="#949cad" letter-spacing="0.5">08–30</text><line x1="1995.6" y1="1517" x2="1995.6" y2="1526" stroke="#e6e8ec" stroke-width="2"/><text x="1995.6" y="1550.8" text-anchor="middle" font-size="22" fill="#949cad">16:54</text><text x="1995.6" y="1572.9" text-anchor="middle" font-size="22" fill="#949cad" letter-spacing="0.5">08–30</text><line x1="2089.5" y1="1517" x2="2089.5" y2="1526" stroke="#e6e8ec" stroke-width="2"/><text x="2089.5" y="1550.8" text-anchor="middle" font-size="22" fill="#949cad">16:58</text><text x="2089.5" y="1572.9" text-anchor="middle" font-size="22" fill="#949cad" letter-spacing="0.5">08–30</text><line x1="2183.5" y1="1517" x2="2183.5" y2="1526" stroke="#e6e8ec" stroke-width="2"/><text x="2183.5" y="1550.8" text-anchor="middle" font-size="22" fill="#949cad">17:02</text><text x="2183.5" y="1572.9" text-anchor="middle" font-size="22" fill="#949cad" letter-spacing="0.5">08–30</text><line x1="2277.4" y1="1517" x2="2277.4" y2="1526" stroke="#e6e8ec" stroke-width="2"/><text x="2277.4" y="1550.8" text-anchor="middle" font-size="22" fill="#949cad">17:06</text><text x="2277.4" y="1572.9" text-anchor="middle" font-size="22" fill="#949cad" letter-spacing="0.5">08–30</text><line x1="2371.4" y1="1517" x2="2371.4" y2="1526" stroke="#e6e8ec" stroke-width="2"/><text x="2371.4" y="1550.8" text-anchor="middle" font-size="22" fill="#949cad">17:10</text><text x="2371.4" y="1572.9" text-anchor="middle" font-size="22" fill="#949cad" letter-spacing="0.5">08–30</text><line x1="2465.3" y1="1517" x2="2465.3" y2="1526" stroke="#e6e8ec" stroke-width="2"/><text x="2465.3" y="1550.8" text-anchor="middle" font-size="22" fill="#949cad">17:14</text><text x="2465.3" y="1572.9" text-anchor="middle" font-size="22" fill="#949cad" letter-spacing="0.5">08–30</text><clipPath id="clip1728_2"><rect x="1728" y="1161.5" width="668.8" height="60"/></clipPath><g clip-path="url(#clip1728_2)"><circle cx="1769.5" cy="1191.0" r="12" fill="#4a9fd8"/><text x="1792.5" y="1200.3" font-size="24" fill="#333" textLength="445" lengthAdjust="spacing">meter_mysql_connection_errors_internal</text><circle cx="2271.7" cy="1191.0" r="12" fill="#f9d66e"/><text x="2294.5" y="1200.3" font-size="24" fill="#333" letter-spacing="0.15">meter_mysql_connection_errors_max_connections</text></g><polygon points="2435,1177.0 2435,1206.0 2417,1191.5" fill="#aaaaaa"/><text x="2475.3" y="1200.3" text-anchor="middle" font-size="24" fill="#333">1/2</text><polygon points="2515.6,1177.0 2515.6,1206.0 2533.6,1191.5" fill="#2f4554"/></g><rect x="1010" y="714" width="316" height="110" rx="8" fill="none" stroke="#000" stroke-opacity="0.012" stroke-width="2"/><g opacity="0.05"><text x="1032" y="749" font-size="24.5" fill="#333">16:47 08–30</text><circle cx="1042" cy="782" r="10" fill="#3f9ad6"/><text x="1064" y="791" font-size="24.5" fill="#333">meter_mysql_tps</text><text x="1305" y="791" text-anchor="end" font-size="24.5" fill="#333">1</text></g></svg>
<div class="bot"></div>
</body></html>
